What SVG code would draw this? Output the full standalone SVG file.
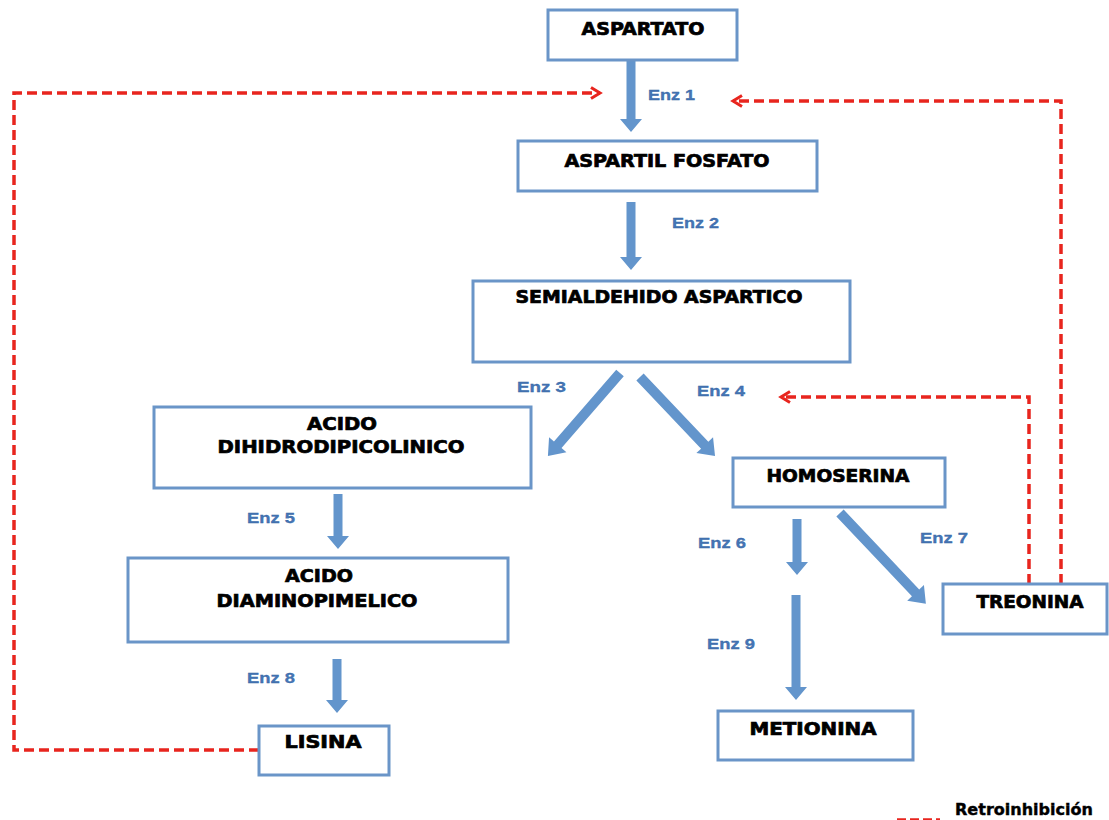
<svg xmlns="http://www.w3.org/2000/svg" width="1109" height="820" viewBox="0 0 1109 820">
<style>
.box{fill:#fff;stroke:#6a95c8;stroke-width:3}
.lbl{font-family:"DejaVu Sans","Liberation Sans",sans-serif;font-weight:bold;font-size:17px;fill:#000;stroke:#000;stroke-width:0.7;text-anchor:middle}
.enz{font-family:"Liberation Sans",Arial,sans-serif;font-weight:bold;font-size:15px;fill:#4676b6;stroke:#2f5f9f;stroke-width:0.3}
.arr{fill:#6395cc}
.fb{fill:none;stroke:#e8251e;stroke-width:3.5;stroke-dasharray:10 5}
</style>
<defs>
<marker id="rh" markerUnits="userSpaceOnUse" markerWidth="14" markerHeight="14" refX="11" refY="7" orient="auto">
<path d="M2,1.5 L11,7 L2,12.5" fill="none" stroke="#e8251e" stroke-width="3"/>
</marker>
</defs>
<rect width="1109" height="820" fill="#fff"/>

<g id="connectors">
<polygon class="arr" points="626.5,60 635.5,60 635.5,119 642,119 631,132 620,119 626.5,119"/>
<polygon class="arr" points="626.5,202 635.5,202 635.5,257 642,257 631,270 620,257 626.5,257"/>
<polygon class="arr" points="333.5,494 342.5,494 342.5,536 349,536 338,549 327,536 333.5,536"/>
<polygon class="arr" points="332.5,659 341.5,659 341.5,700 348,700 337,713 326,700 332.5,700"/>
<polygon class="arr" points="792.5,519 801.5,519 801.5,562 808,562 797,575 786,562 792.5,562"/>
<polygon class="arr" points="791.5,595 800.5,595 800.5,687 807,687 796,700 785,687 791.5,687"/>
<g transform="translate(620,373) rotate(130.94)"><polygon class="arr" points="0,-5 95,-5 95,-11.5 110,0 95,11.5 95,5 0,5"/></g>
<g transform="translate(640,377) rotate(46.5)"><polygon class="arr" points="0,-5 94,-5 94,-11.5 109,0 94,11.5 94,5 0,5"/></g>
<g transform="translate(840,513) rotate(46.6)"><polygon class="arr" points="0,-5 110,-5 110,-11.5 125,0 110,11.5 110,5 0,5"/></g>
<path class="fb" d="M259,750 H14 V93 H600" marker-end="url(#rh)"/>
<path class="fb" d="M1061,584 V101 H733" marker-end="url(#rh)"/>
<path class="fb" d="M1029,584 V397 H781" marker-end="url(#rh)"/>
<text class="enz" x="648" y="100" textLength="47" lengthAdjust="spacingAndGlyphs">Enz 1</text>
<text class="enz" x="672" y="228" textLength="47" lengthAdjust="spacingAndGlyphs">Enz 2</text>
<text class="enz" x="517" y="392" textLength="49" lengthAdjust="spacingAndGlyphs">Enz 3</text>
<text class="enz" x="697" y="396" textLength="48" lengthAdjust="spacingAndGlyphs">Enz 4</text>
<text class="enz" x="247" y="523" textLength="48" lengthAdjust="spacingAndGlyphs">Enz 5</text>
<text class="enz" x="698" y="548" textLength="48" lengthAdjust="spacingAndGlyphs">Enz 6</text>
<text class="enz" x="920" y="543" textLength="48" lengthAdjust="spacingAndGlyphs">Enz 7</text>
<text class="enz" x="247" y="683" textLength="48" lengthAdjust="spacingAndGlyphs">Enz 8</text>
<text class="enz" x="707" y="649" textLength="48" lengthAdjust="spacingAndGlyphs">Enz 9</text>
</g>

<g id="aspartato"><rect class="box" x="548" y="10" width="189" height="50"/><text class="lbl" x="643" y="35" textLength="123" lengthAdjust="spacingAndGlyphs">ASPARTATO</text></g>
<g id="aspartil-fosfato"><rect class="box" x="518" y="141" width="299" height="50"/><text class="lbl" x="667" y="167" textLength="205" lengthAdjust="spacingAndGlyphs">ASPARTIL FOSFATO</text></g>
<g id="semialdehido"><rect class="box" x="473" y="281" width="377" height="81"/><text class="lbl" x="659" y="303" textLength="287" lengthAdjust="spacingAndGlyphs">SEMIALDEHIDO ASPARTICO</text></g>
<g id="acido-dihidro"><rect class="box" x="154" y="407" width="377" height="81"/><text class="lbl" x="342" y="430" textLength="70" lengthAdjust="spacingAndGlyphs">ACIDO</text><text class="lbl" x="341" y="453" textLength="247" lengthAdjust="spacingAndGlyphs">DIHIDRODIPICOLINICO</text></g>
<g id="acido-diamino"><rect class="box" x="128" y="558" width="380" height="84"/><text class="lbl" x="319" y="582" textLength="68" lengthAdjust="spacingAndGlyphs">ACIDO</text><text class="lbl" x="317" y="607" textLength="201" lengthAdjust="spacingAndGlyphs">DIAMINOPIMELICO</text></g>
<g id="lisina"><rect class="box" x="259" y="726" width="130" height="49"/><text class="lbl" x="323" y="748" textLength="77" lengthAdjust="spacingAndGlyphs">LISINA</text></g>
<g id="homoserina"><rect class="box" x="733" y="458" width="212" height="49"/><text class="lbl" x="838" y="482" textLength="143" lengthAdjust="spacingAndGlyphs">HOMOSERINA</text></g>
<g id="treonina"><rect class="box" x="943" y="584" width="164" height="50"/><text class="lbl" x="1030" y="608" textLength="107" lengthAdjust="spacingAndGlyphs">TREONINA</text></g>
<g id="metionina"><rect class="box" x="718" y="711" width="195" height="49"/><text class="lbl" x="813" y="735" textLength="127" lengthAdjust="spacingAndGlyphs">METIONINA</text></g>

<g id="legend">
<line x1="897" y1="820" x2="940" y2="820" stroke="#e8251e" stroke-width="3.5" stroke-dasharray="9 4"/>
<text x="955" y="815" font-family="DejaVu Sans, sans-serif" font-weight="bold" font-size="15" fill="#000" stroke="#000" stroke-width="0.4" textLength="138" lengthAdjust="spacingAndGlyphs">Retroinhibición</text>
</g>
</svg>
